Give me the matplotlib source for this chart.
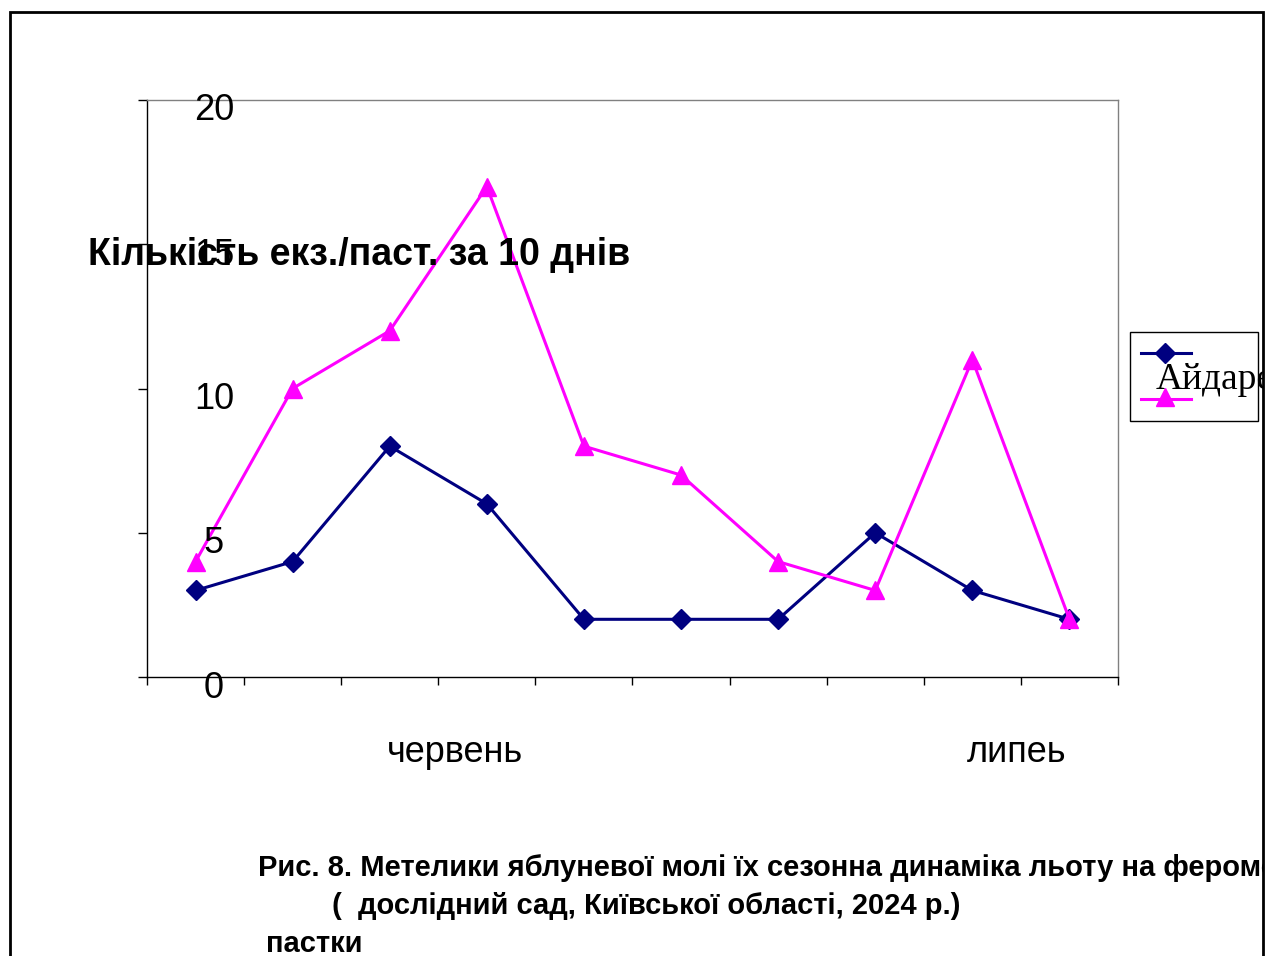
import matplotlib
matplotlib.use("Agg")
import matplotlib.pyplot as plt
from matplotlib.patches import Rectangle
from matplotlib.lines import Line2D
from matplotlib.transforms import blended_transform_factory, ScaledTranslation

# data
decades = list(range(10))
idared = [3, 4, 8, 6, 2, 2, 2, 5, 3, 2]
variety2 = [4, 10, 12, 17, 8, 7, 4, 3, 11, 2]
month_labels = ["червень", "липеь"]
month_pos = [2.67, 8.46]
y_ticks = [0, 5, 10, 15, 20]
series_names = ["Айдаред", ""]

ylabel = "Кількість екз./паст. за 10 днів"
caption = ["Рис. 8. Метелики яблуневої молі їх сезонна динаміка льоту на феромонні",
           "(  дослідний сад, Київської області, 2024 р.)",
           "пастки"]
caption_x = [258, 332, 266]

W, H = 1268, 956
navy = "#000080"
magenta = "#FF00FF"
sans = ["Liberation Sans", "DejaVu Sans"]


def fx(x):
    return x / W


def fy(y):
    return 1 - y / H


fig = plt.figure(figsize=(W / 100, H / 100), dpi=100)
ax = fig.add_axes([fx(147), fy(677), fx(1118) - fx(147), fy(100) - fy(677)])

ax.plot(decades, idared, color=navy, lw=2.2, marker="D", ms=10, clip_on=False, zorder=3)
ax.plot(decades, variety2, color=magenta, lw=2.2, marker="^", ms=13, clip_on=False, zorder=3)

ax.set_xlim(-0.5, 9.5)
ax.set_ylim(0, 20)
ax.set_xticks([i - 0.5 for i in range(11)])
ax.set_xticklabels([])
ax.set_yticks(y_ticks)
ax.set_yticklabels([])
ax.tick_params(axis="x", direction="out", length=6, width=1, color="black")
ax.tick_params(axis="y", direction="out", length=6.5, width=1, color="black")
ax.spines["left"].set_color("black")
ax.spines["bottom"].set_color("black")
ax.spines["top"].set_color("#808080")
ax.spines["right"].set_color("#808080")
for s in ax.spines.values():
    s.set_linewidth(1)

# y tick labels sit inside the plot, shifted right and down
shift = ScaledTranslation(67 / 100, -11 / 100, fig.dpi_scale_trans)
tr = blended_transform_factory(ax.transAxes, ax.transData) + shift
for v in y_ticks:
    ax.text(0, v, str(v), transform=tr, ha="center", va="center",
            fontsize=26, family=sans, clip_on=False)

# month labels under the axis
trx = blended_transform_factory(ax.transData, fig.transFigure)
for name, p in zip(month_labels, month_pos):
    ax.text(p, fy(753), name, transform=trx, ha="center", va="center",
            fontsize=26, family=sans, clip_on=False)

fig.text(fx(88), fy(255), ylabel, ha="left", va="center", fontsize=27,
         fontweight="bold", family=sans)

# legend
fig.add_artist(Rectangle((fx(1130), fy(421)), fx(1258) - fx(1130), fy(332) - fy(421),
                         transform=fig.transFigure, fill=False, ec="black", lw=1))
fig.add_artist(Line2D([fx(1141), fx(1191)], [fy(353), fy(353)], color=navy, lw=2.2,
                      transform=fig.transFigure))
fig.add_artist(Line2D([fx(1165)], [fy(353)], color=navy, marker="D", ms=10,
                      transform=fig.transFigure))
fig.add_artist(Line2D([fx(1141), fx(1191)], [fy(399), fy(399)], color=magenta, lw=2.2,
                      transform=fig.transFigure))
fig.add_artist(Line2D([fx(1165)], [fy(397)], color=magenta, marker="^", ms=13,
                      transform=fig.transFigure))
fig.text(fx(1156), fy(380), series_names[0], ha="left", va="center", fontsize=27,
         family=["Liberation Serif", "DejaVu Serif"])

# caption
for i, line in enumerate(caption):
    fig.text(fx(caption_x[i]), fy(868 + 38 * i), line, ha="left", va="center",
             fontsize=21, fontweight="bold", family=sans)

# cut everything at the outer frame
fig.add_artist(Rectangle((fx(1263), 0), 1 - fx(1263), 1, transform=fig.transFigure,
                         fc="white", ec="none", zorder=20))
fig.add_artist(Rectangle((fx(10), fy(975)), fx(1263) - fx(10), fy(12) - fy(975),
                         transform=fig.transFigure, fill=False, ec="black", lw=2,
                         zorder=21, clip_on=False))

fig.savefig("out.png", dpi=100)
